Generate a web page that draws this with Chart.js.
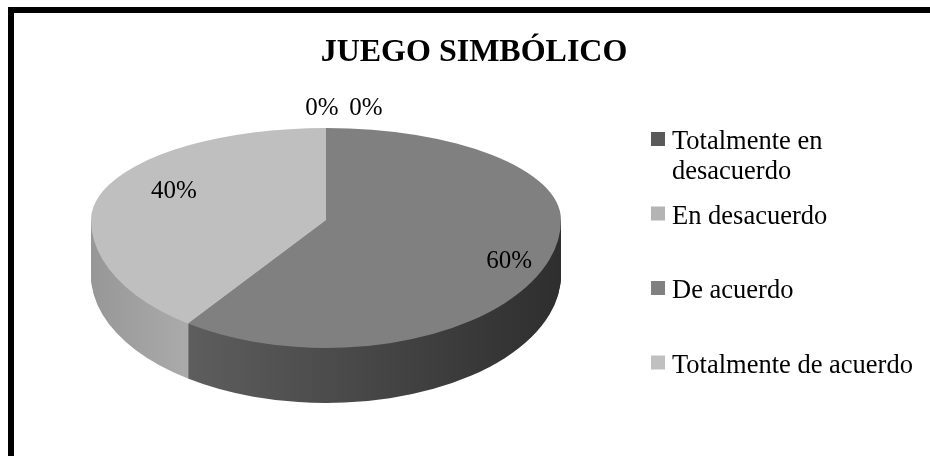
<!DOCTYPE html>
<html>
<head>
<meta charset="utf-8">
<script src="https://cdn.jsdelivr.net/npm/chart.js@4/dist/chart.umd.min.js"></script>
<style>
html,body{margin:0;padding:0;background:#fff;}
#wrap{width:930px;height:456px;position:relative;}
</style>
</head>
<body>
<div id="wrap"><canvas id="c" width="930" height="456"></canvas></div>
<script>
// ---- data ----
const chartTitle = 'JUEGO SIMBÓLICO';
const categories = ['Totalmente en desacuerdo', 'En desacuerdo', 'De acuerdo', 'Totalmente de acuerdo'];
const legendLines = [['Totalmente en', 'desacuerdo'], ['En desacuerdo'], ['De acuerdo'], ['Totalmente de acuerdo']];
const percentages = [0, 0, 60, 40];
const valueLabels = ['0%', '0%', '60%', '40%'];

// ---- styles ----
const topColors = ['#5a5a5a', '#b4b4b4', '#808080', '#bfbfbf'];
const legendColors = ['#5a5a5a', '#b4b4b4', '#808080', '#c0c0c0'];
const sideStops = [
  [[0, '#3a3a3a'], [1, '#222222']],
  [[0, '#8a8a8a'], [1, '#9a9a9a']],
  [[0, '#6a6a6a'], [1, '#2e2e2e']],
  [[0, '#979797'], [0.2, '#aaaaaa'], [1, '#bbbbbb']]
];
const FONT = "'Liberation Serif', 'Times New Roman', serif";

const frame = {
  id: 'frame',
  beforeDraw(chart) {
    const ctx = chart.ctx;
    ctx.save();
    ctx.fillStyle = '#ffffff';
    ctx.fillRect(0, 0, chart.width, chart.height);
    ctx.fillStyle = '#000000';
    ctx.fillRect(8, 7, 6, chart.height);
    ctx.fillRect(8, 7, chart.width, 6);
    ctx.restore();
  }
};

const pie3d = {
  id: 'pie3d',
  beforeDatasetsDraw(chart, args, o) {
    const ctx = chart.ctx;
    const arcs = chart.getDatasetMeta(0).data;
    const ox = arcs[0].x, oy = arcs[0].y, R = arcs[0].outerRadius;
    const sx = o.rx / R;
    const project = (ry, dy) => {
      ctx.translate(o.cx, o.cy + dy);
      ctx.scale(sx, ry / R);
      ctx.translate(-ox, -oy);
    };
    const drawArc = (arc, fill) => {
      const saved = arc.options;
      arc.options = Object.assign({}, saved, {backgroundColor: fill, borderColor: fill, borderWidth: 0});
      arc.draw(ctx);
      arc.options = saved;
    };
    const grads = sideStops.map(stops => {
      const g = ctx.createLinearGradient(ox - R, 0, ox + R, 0);
      stops.forEach(s => g.addColorStop(s[0], s[1]));
      return g;
    });
    // side wall
    ctx.save();
    ctx.beginPath();
    ctx.rect(0, o.cy, chart.width, chart.height - o.cy);
    ctx.clip();
    for (let d = o.depth; d >= 1; d--) {
      ctx.save();
      project(o.ryBottom, d);
      arcs.forEach((arc, i) => drawArc(arc, grads[i]));
      ctx.restore();
    }
    ctx.restore();
    // top face (two halves for perspective)
    [[o.ryTop, 0, o.cy], [o.ryBottom, o.cy, chart.height]].forEach(([ry, y0, y1]) => {
      ctx.save();
      ctx.beginPath();
      ctx.rect(0, y0, chart.width, y1 - y0);
      ctx.clip();
      project(ry, 0);
      arcs.forEach((arc, i) => drawArc(arc, topColors[i]));
      ctx.restore();
    });
    // data labels
    ctx.save();
    ctx.font = '25px ' + FONT;
    ctx.fillStyle = '#000000';
    ctx.textAlign = 'center';
    ctx.textBaseline = 'middle';
    let zeroIdx = 0;
    arcs.forEach((arc, i) => {
      const mid = (arc.startAngle + arc.endAngle) / 2;
      const c = Math.cos(mid), s = Math.sin(mid);
      const f = o.labelRadius[i];
      let x = o.cx + o.rx * f * c;
      let y = o.cy + (s < 0 ? o.ryTop : o.ryBottom) * f * s + o.labelDy[i];
      if (percentages[i] === 0) {
        x = o.cx + o.zeroStart + zeroIdx * o.zeroStep;
        y = o.cy - o.ryTop - o.zeroLift;
        zeroIdx++;
      }
      ctx.fillText(valueLabels[i], x, y);
    });
    ctx.restore();
    return false;
  }
};

const legend3d = {
  id: 'legend3d',
  afterDraw(chart, args, o) {
    const ctx = chart.ctx;
    ctx.save();
    ctx.font = o.fontSize + 'px ' + FONT;
    ctx.textBaseline = 'alphabetic';
    ctx.textAlign = 'left';
    categories.forEach((cat, i) => {
      const base = o.top + i * o.step;
      ctx.fillStyle = legendColors[i];
      ctx.fillRect(o.x, base - 17, o.box, o.box);
      ctx.fillStyle = '#000000';
      legendLines[i].forEach((line, j) => {
        ctx.fillText(line, o.x + o.box + 7, base + j * o.lineH);
      });
    });
    ctx.restore();
  }
};

new Chart(document.getElementById('c'), {
  type: 'pie',
  data: {
    labels: categories,
    datasets: [{
      data: percentages,
      backgroundColor: topColors,
      borderWidth: 0
    }]
  },
  options: {
    responsive: false,
    animation: false,
    events: [],
    layout: {padding: {left: 18, right: 0, top: 0, bottom: 0}},
    plugins: {
      legend: {display: false},
      tooltip: {enabled: false},
      title: {
        display: true,
        text: chartTitle,
        color: '#000000',
        font: {family: FONT, size: 32, weight: 'bold'},
        padding: {top: 34, bottom: 10}
      },
      pie3d: {
        cx: 326, cy: 220, rx: 235, ryTop: 92, ryBottom: 128, depth: 55,
        labelRadius: [1, 1, 0.82, 0.68],
        labelDy: [0, 0, 9, -9],
        zeroStart: -4, zeroStep: 44, zeroLift: 20
      },
      legend3d: {x: 651, top: 149, step: 74.5, lineH: 29.5, box: 14, fontSize: 26.5}
    }
  },
  plugins: [frame, pie3d, legend3d]
});
</script>
</body>
</html>
